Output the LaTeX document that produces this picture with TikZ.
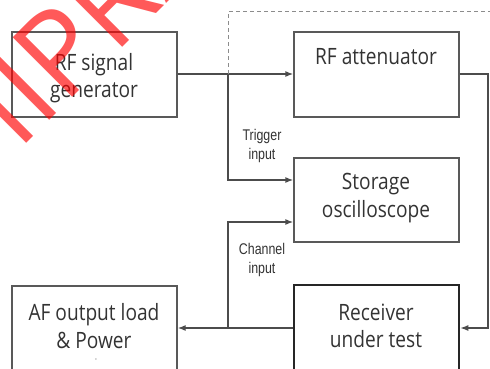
\documentclass[tikz,border=0pt]{standalone}
\usepackage{fontspec}
\setmainfont{Open Sans}
\newfontfamily\boxfont[FakeStretch=0.85]{Open Sans}
\newfontfamily\lblfont[FakeStretch=0.8]{Liberation Sans}
\usetikzlibrary{arrows.meta}
\begin{document}
\begin{tikzpicture}[x=1pt,y=-1pt,
  blk/.style={draw=black!65,line width=1.3pt,minimum width=165pt,inner sep=0pt},
  thick blk/.style={draw=black!85,line width=2.6pt,minimum width=165pt,inner sep=0pt},
  txt/.style={font=\boxfont\fontsize{22.5}{27.5}\selectfont,text=black!80,align=center,inner sep=0pt},
  lbl/.style={font=\lblfont\fontsize{15.5}{19}\selectfont,text=black!80,align=center,inner sep=0pt},
  wire/.style={draw=black!70,line width=1.3pt},
  arr/.style={wire,-{Latex[length=8pt,width=6pt]}},
  wm/.style={font=\fontsize{118}{118}\selectfont,text=red,opacity=0.65,inner sep=0pt}
]
\useasboundingbox (0,0) rectangle (490,369);
\begin{scope}
\clip (0,0) rectangle (490,369);
% boxes
\node[blk,minimum height=85pt] (gen) at (94.5,74.5) {};
\node[txt] (gentxt) at (94,78) {RF signal\\generator};
\node[blk,minimum height=85pt] (att) at (376.5,74.5) {};
\node[txt] (atttxt) at (376,57) {RF attenuator};
\node[blk,minimum height=84pt] (osc) at (376.5,200) {};
\node[txt] (osctxt) at (376,198) {Storage\\oscilloscope};
\node[thick blk,minimum height=100pt] (rx) at (376.5,335) {};
\node[txt] (rxtxt) at (376,326) {Receiver\\under test};
\node[blk,minimum height=100pt] (af) at (94.5,336) {};
\node[txt] (aftxt) at (94,326) {AF output load\\\& Power};
\node[text=black!50,inner sep=0pt,font=\fontsize{12}{12}\selectfont] (afdot) at (96,360) {$\cdot$};
% labels
\node[lbl] (trig) at (262,146) {Trigger\\input};
\node[lbl] (chan) at (262,260) {Channel\\input};
% coordinates
\coordinate (j1) at (228,74);
\coordinate (j2) at (228,180);
\coordinate (j3) at (228,222);
\coordinate (j4) at (228,328);
\coordinate (r1) at (488,74);
\coordinate (r2) at (488,328);
\coordinate (d1) at (228,12);
\coordinate (d2) at (492,12);
% connectors
\draw[arr] (gen.east |- j1) -- (att.west |- j1);
\draw[arr] (j1) -- (j2) -- (osc.west |- j2);
\draw[arr] (j4) -- (j3) -- (osc.west |- j3);
\draw[arr] (rx.west |- j4) -- (af.east |- j4);
\draw[arr] (att.east |- r1) -- (r1) -- (r2) -- (rx.east |- r2);
\draw[draw=black!45,line width=1pt,dash pattern=on 4pt off 3pt] (j1) -- (d1) -- (d2);
% watermark
\node[wm,rotate=45,anchor=base west] (wmark) at (18,152) {IIPRA};
\end{scope}
\end{tikzpicture}
\end{document}
